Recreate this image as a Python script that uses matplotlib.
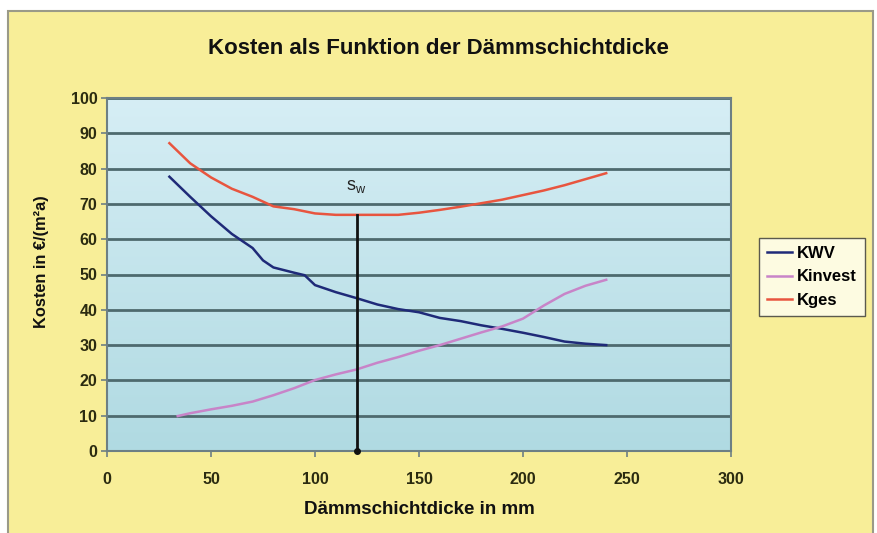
import numpy as np
import matplotlib
matplotlib.use("Agg")
import matplotlib.pyplot as plt
from matplotlib.patches import Rectangle

plt.rcParams["font.family"] = ["Liberation Sans", "DejaVu Sans"]

# ---- data ----
kwv_x = [30, 40, 50, 60, 70, 75, 80, 90, 95, 100, 110, 120, 130, 140, 150,
         160, 170, 180, 190, 200, 210, 220, 230, 240]
kwv_y = [77.7, 72.0, 66.5, 61.5, 57.5, 54.0, 52.0, 50.5, 49.8, 47.0, 45.0, 43.3,
         41.5, 40.2, 39.3, 37.7, 36.8, 35.6, 34.6, 33.5, 32.3, 31.0, 30.4, 30.0]

kinv_x = [34, 40, 50, 60, 70, 80, 90, 100, 110, 120, 130, 140, 150, 160,
          170, 180, 190, 200, 210, 220, 230, 240]
kinv_y = [9.9, 10.7, 11.8, 12.8, 14.0, 15.8, 17.8, 20.1, 21.7, 23.1, 25.0, 26.6,
          28.4, 30.0, 31.8, 33.6, 35.3, 37.5, 41.2, 44.5, 46.8, 48.5]

kges_x = [30, 40, 50, 60, 70, 80, 90, 100, 110, 120, 130, 140, 150, 160,
          170, 180, 190, 200, 210, 220, 230, 240]
kges_y = [87.2, 81.5, 77.5, 74.3, 72.0, 69.3, 68.5, 67.3, 66.9, 66.9, 66.9, 66.9,
          67.5, 68.3, 69.2, 70.2, 71.2, 72.5, 73.8, 75.3, 77.0, 78.7]

sw_x = 120
sw_y = 66.9

x_ticks = [0, 50, 100, 150, 200, 250, 300]
y_ticks = [0, 10, 20, 30, 40, 50, 60, 70, 80, 90, 100]

title = "Kosten als Funktion der Dämmschichtdicke"
xlabel = "Dämmschichtdicke in mm"
ylabel = "Kosten in €/(m²a)"

# ---- figure ----
W, H = 877, 533
fig = plt.figure(figsize=(W / 100, H / 100), dpi=100)
fig.patch.set_facecolor("white")
# yellow chart area with border (open towards the bottom edge)
fig.patches.append(Rectangle((8 / W, -5 / H), (873 - 8) / W, (522 + 5) / H,
                             transform=fig.transFigure, facecolor="#F8EE98",
                             edgecolor="#9a9a88", linewidth=1.5, zorder=-10))

ax = fig.add_axes([107 / W, 1 - 451 / H, (731 - 107) / W, (451 - 98) / H])
ax.set_zorder(1)
ax.set_xlim(0, 300)
ax.set_ylim(0, 100)

# gradient background
grad = np.linspace(0, 1, 256).reshape(-1, 1)
top = np.array([214, 238, 245]) / 255
bot = np.array([176, 218, 226]) / 255
img = bot + (top - bot) * grad
img = np.repeat(img[:, None, :], 2, axis=1).reshape(256, 2, 3)
ax.imshow(img, extent=[0, 300, 0, 100], origin="lower", aspect="auto", zorder=0)

ax.set_yticks(y_ticks)
ax.set_xticks(x_ticks)
for yv in y_ticks:
    ax.axhline(yv, color="#4e6a6e", linewidth=2.0, zorder=1)

for s in ax.spines.values():
    s.set_color("#6d7f84")
    s.set_linewidth(1.5)

lbl_color = "#2b2b10"
ax.tick_params(axis="both", direction="out", length=4, width=1.2,
               color="#6d7f84", labelcolor=lbl_color, labelsize=11.5)
for t in ax.get_xticklabels() + ax.get_yticklabels():
    t.set_fontweight("bold")
ax.tick_params(axis="x", pad=11)
ax.tick_params(axis="y", pad=3)

ax.plot(kwv_x, kwv_y, color="#1f2a78", linewidth=1.8, label="KWV", zorder=3)
ax.plot(kinv_x, kinv_y, color="#c884c8", linewidth=1.8, label="Kinvest", zorder=3)
ax.plot(kges_x, kges_y, color="#e8553f", linewidth=1.8, label="Kges", zorder=3)

ax.plot([sw_x, sw_x], [0, sw_y], color="#111111", linewidth=2.0, zorder=4)
ax.plot([sw_x], [0], marker="o", color="#111111", markersize=4, zorder=5,
        clip_on=False)
ax.text(sw_x, 75, "s$_\\mathregular{w}$", ha="center", va="center",
        fontsize=13, color="#222222", zorder=5)

fig.text(0.5, 1 - 48 / H, title, ha="center", va="center", fontsize=16,
         fontweight="bold", color="#111111")
fig.text(419 / W, 1 - 510 / H, xlabel, ha="center", va="center", fontsize=13.5,
         fontweight="bold", color="#111111")
fig.text(42 / W, 1 - 262 / H, ylabel, ha="center", va="center", rotation=90,
         fontsize=11.8, fontweight="bold", color="#111111")

leg = ax.legend(loc="center left", bbox_to_anchor=(759 / W, 1 - 277 / H),
                bbox_transform=fig.transFigure, frameon=True, fancybox=False,
                fontsize=12, handlelength=1.5, handletextpad=0.25,
                borderpad=0.5, labelspacing=0.5, borderaxespad=0)
leg.get_frame().set_edgecolor("#333333")
leg.get_frame().set_facecolor("#fffff4")
leg.get_frame().set_linewidth(1.0)
for t in leg.get_texts():
    t.set_fontweight("bold")

fig.savefig("out.png", dpi=100)
